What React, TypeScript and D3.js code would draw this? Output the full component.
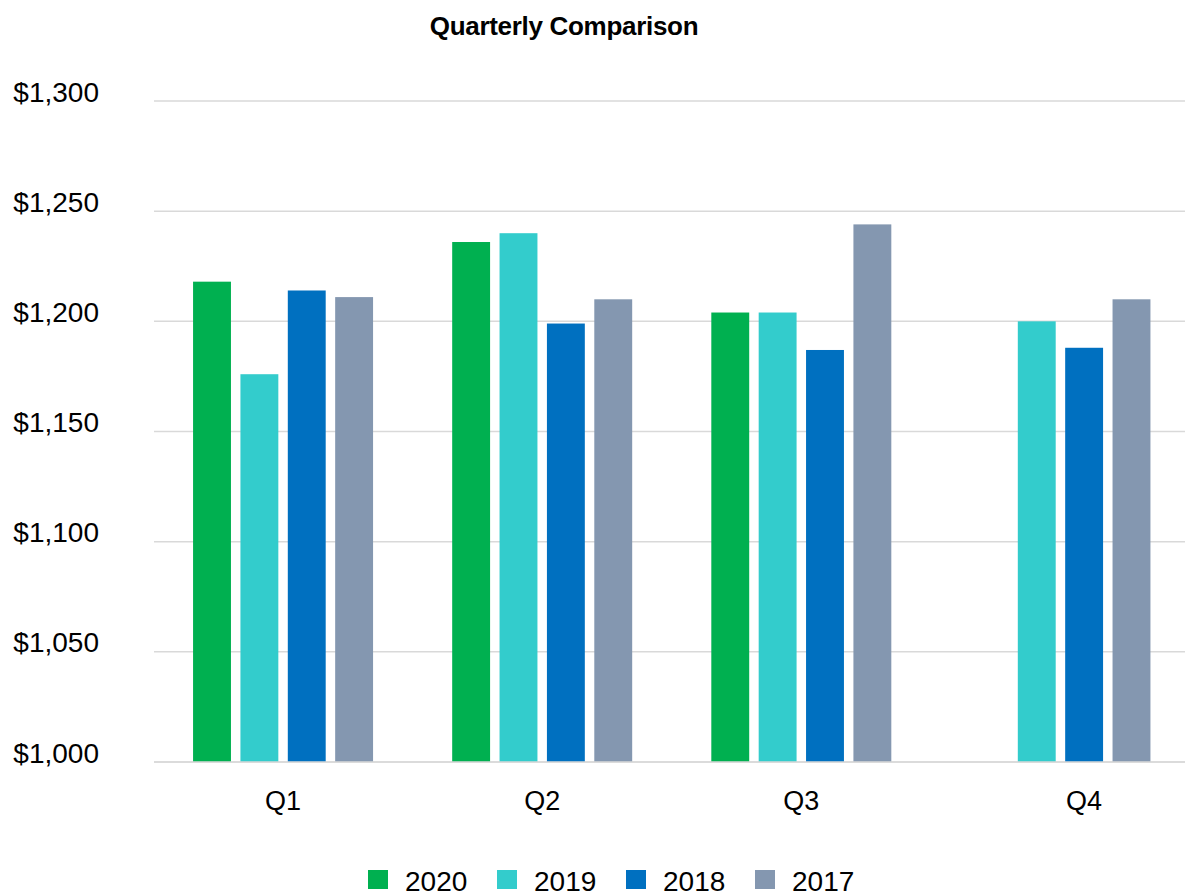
import React from "react";
import * as d3 from "d3";

const quarters = ["Q1", "Q2", "Q3", "Q4"];
const seriesNames = ["2020", "2019", "2018", "2017"];
const values2020: (number | null)[] = [1218, 1236, 1204, null];
const values2019: (number | null)[] = [1176, 1240, 1204, 1200];
const values2018: (number | null)[] = [1214, 1199, 1187, 1188];
const values2017: (number | null)[] = [1211, 1210, 1244, 1210];
const yTicks = [1000, 1050, 1100, 1150, 1200, 1250, 1300];
const colors = ["#00B050", "#33CCCC", "#0070C0", "#8497B0"];
const title = "Quarterly Comparison";

const W = 1185;
const H = 895;
const FONT = "'Liberation Sans', Arial, sans-serif";

export default function App() {
  const series = [values2020, values2019, values2018, values2017];
  const y = d3.scaleLinear().domain([1000, 1300]).range([762, 101]);
  const x0 = d3.scaleBand<string>().domain(quarters).range([153.5, 1190]).padding(0);
  const groupW = 180;
  const x1 = d3
    .scaleBand<string>()
    .domain(seriesNames)
    .range([0, groupW])
    .paddingInner(0.2)
    .paddingOuter(0);
  const fmt = (v: number) => "$" + d3.format(",")(v);
  const groupStart = (q: string) => (x0(q) as number) + (x0.bandwidth() - groupW) / 2;

  const labelX = (qi: number) => {
    const gx = groupStart(quarters[qi]);
    const present = seriesNames.filter((_, si) => series[si][qi] != null);
    const lo = gx + (x1(present[0]) as number);
    const hi = gx + (x1(present[present.length - 1]) as number) + x1.bandwidth();
    return (lo + hi) / 2;
  };

  const legendX = [368, 497, 626, 755];

  return (
    <svg
      width={W}
      height={H}
      style={{ position: "absolute", left: 0, top: 0, background: "#fff" }}
      fontFamily={FONT}
    >
      <rect x={0} y={0} width={W} height={H} fill="#fff" />
      <text
        x={564}
        y={35}
        textAnchor="middle"
        fontSize={26}
        fontWeight="bold"
        letterSpacing={-0.3}
        fill="#000"
      >
        {title}
      </text>
      {yTicks.map((t) => (
        <g key={t}>
          <line
            x1={154}
            x2={1190}
            y1={y(t)}
            y2={y(t)}
            stroke="#d9d9d9"
            strokeWidth={1.5}
          />
          <text x={99} y={y(t) + 0.5} textAnchor="end" fontSize={28} fill="#000">
            {fmt(t)}
          </text>
        </g>
      ))}
      {quarters.map((q, qi) => {
        const gx = groupStart(q);
        return (
          <g key={q}>
            {series.map((s, si) => {
              const v = s[qi];
              if (v == null) return null;
              return (
                <rect
                  key={si}
                  x={gx + (x1(seriesNames[si]) as number)}
                  y={y(v)}
                  width={x1.bandwidth()}
                  height={y(1000) - y(v)}
                  fill={colors[si]}
                />
              );
            })}
            <text x={labelX(qi)} y={810} textAnchor="middle" fontSize={27} fill="#000">
              {q}
            </text>
          </g>
        );
      })}
      <line x1={154} x2={1190} y1={y(1000)} y2={y(1000)} stroke="#d9d9d9" strokeWidth={1.5} />
      {seriesNames.map((n, i) => (
        <g key={n}>
          <rect x={legendX[i]} y={870} width={20} height={19} fill={colors[i]} />
          <text x={legendX[i] + 37} y={891} fontSize={28} fill="#000">
            {n}
          </text>
        </g>
      ))}
    </svg>
  );
}
